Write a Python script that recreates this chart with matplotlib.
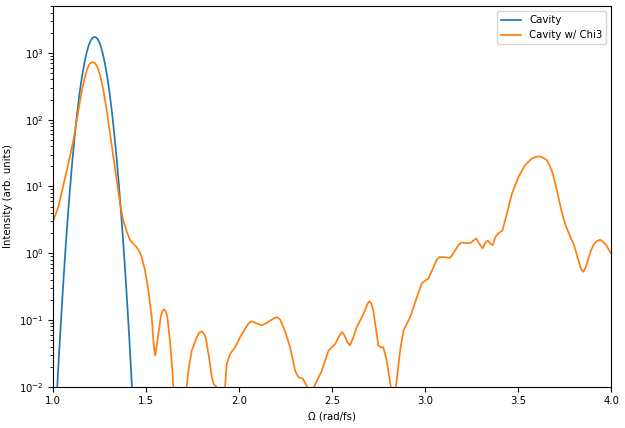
import numpy as np
import matplotlib
matplotlib.use("Agg")
from matplotlib import pyplot as plt

# Cavity spectrum (log10 of intensity)
cav_x = [1.00, 1.01, 1.02, 1.03, 1.04, 1.05, 1.06, 1.07, 1.08, 1.09, 1.10, 1.11,
         1.12, 1.13, 1.14, 1.15, 1.16, 1.17, 1.18, 1.19, 1.20, 1.21, 1.22, 1.23,
         1.24, 1.25, 1.26, 1.27, 1.28, 1.29, 1.30, 1.31, 1.32, 1.33, 1.34, 1.35,
         1.36, 1.37, 1.38, 1.39, 1.40, 1.41, 1.42, 1.43, 1.44, 1.46]
cav_log = [-3.17, -2.60, -2.06, -1.55, -1.07, -0.61, -0.17, 0.24, 0.62, 0.97, 1.31, 1.61,
           1.89, 2.14, 2.37, 2.57, 2.74, 2.89, 3.01, 3.11, 3.18, 3.22, 3.24, 3.23,
           3.20, 3.14, 3.05, 2.94, 2.80, 2.64, 2.45, 2.23, 1.99, 1.72, 1.43, 1.11,
           0.76, 0.39, -0.01, -0.43, -0.88, -1.35, -1.86, -2.38, -2.94, -4.1]

# Cavity with chi3 (log10 of intensity)
chi_x = [1.000, 1.027, 1.054, 1.081, 1.108, 1.126, 1.144, 1.157, 1.170, 1.180,
         1.190, 1.200, 1.210, 1.222, 1.233, 1.242, 1.251, 1.260, 1.269, 1.287,
         1.305, 1.323, 1.341, 1.359, 1.376, 1.395, 1.412, 1.430, 1.448, 1.462,
         1.475, 1.493, 1.511, 1.529, 1.538, 1.543, 1.548, 1.555, 1.565, 1.577,
         1.587, 1.597, 1.606, 1.613, 1.627, 1.640, 1.645, 1.680, 1.717, 1.726,
         1.744, 1.771, 1.784, 1.796, 1.808, 1.819, 1.837, 1.852, 1.864, 1.878,
         1.900, 1.923, 1.932, 1.950, 1.977, 2.004, 2.031, 2.050, 2.067, 2.090,
         2.120, 2.145, 2.165, 2.190, 2.204, 2.218, 2.237, 2.255, 2.273, 2.300,
         2.318, 2.341, 2.362, 2.380, 2.402, 2.443, 2.479, 2.515, 2.535, 2.552,
         2.565, 2.580, 2.595, 2.610, 2.631, 2.667, 2.690, 2.699, 2.708, 2.720,
         2.735, 2.747, 2.760, 2.774, 2.792, 2.814, 2.828, 2.842, 2.864, 2.882,
         2.900, 2.918, 2.954, 2.981, 3.000, 3.016, 3.043, 3.061, 3.075, 3.100,
         3.133, 3.160, 3.180, 3.196, 3.220, 3.240, 3.273, 3.290, 3.308, 3.322,
         3.336, 3.350, 3.362, 3.376, 3.389, 3.414, 3.438, 3.465, 3.500, 3.536,
         3.572, 3.592, 3.613, 3.633, 3.653, 3.670, 3.685, 3.700, 3.715, 3.733,
         3.751, 3.775, 3.796, 3.810, 3.823, 3.837, 3.849, 3.862, 3.876, 3.890,
         3.903, 3.920, 3.939, 3.955, 3.972, 3.986, 4.000]
chi_log = [0.49, 0.69, 1.02, 1.34, 1.69, 1.99, 2.29, 2.48, 2.64, 2.74,
           2.81, 2.85, 2.86, 2.85, 2.81, 2.75, 2.67, 2.56, 2.44, 2.14,
           1.79, 1.44, 1.09, 0.74, 0.49, 0.32, 0.20, 0.14, 0.09, 0.03,
           -0.06, -0.26, -0.56, -0.96, -1.31, -1.45, -1.53, -1.40, -1.21, -0.96,
           -0.86, -0.84, -0.88, -0.96, -1.31, -1.76, -2.0, -2.8, -2.0, -1.76,
           -1.46, -1.26, -1.19, -1.17, -1.20, -1.26, -1.56, -1.86, -1.97, -2.0,
           -2.3, -2.0, -1.66, -1.51, -1.41, -1.26, -1.13, -1.05, -1.02, -1.05,
           -1.08, -1.05, -1.01, -0.97, -0.96, -0.99, -1.11, -1.25, -1.41, -1.76,
           -1.86, -1.88, -1.99, -2.2, -2.0, -1.76, -1.46, -1.36, -1.25, -1.18,
           -1.23, -1.33, -1.38, -1.28, -1.11, -0.91, -0.75, -0.72, -0.75, -0.86,
           -1.15, -1.38, -1.41, -1.41, -1.61, -2.0, -2.3, -2.0, -1.46, -1.16,
           -1.06, -0.96, -0.66, -0.45, -0.41, -0.38, -0.21, -0.10, -0.06, -0.06,
           -0.07, 0.04, 0.13, 0.16, 0.15, 0.15, 0.22, 0.14, 0.07, 0.16,
           0.19, 0.14, 0.12, 0.24, 0.29, 0.34, 0.59, 0.89, 1.14, 1.32,
           1.42, 1.44, 1.45, 1.43, 1.39, 1.30, 1.19, 1.02, 0.84, 0.62,
           0.44, 0.27, 0.14, 0.02, -0.11, -0.24, -0.28, -0.21, -0.08, 0.04,
           0.12, 0.18, 0.20, 0.17, 0.12, 0.05, -0.01]

plt.rcParams['font.size'] = 7.3

fig = plt.figure(figsize=(6.25, 4.28), dpi=100)
ax = fig.add_axes([0.0853, 0.0965, 0.893, 0.889])

ax.semilogy(cav_x, 10 ** np.array(cav_log), color='#1f77b4', lw=1.25, label='Cavity')
ax.semilogy(chi_x, 10 ** np.array(chi_log), color='#ff7f0e', lw=1.25, label='Cavity w/ Chi3')

ax.set_xlim(1.0, 4.0)
ax.set_ylim(1e-2, 5e3)
ax.set_xlabel('Ω (rad/fs)')
ax.set_ylabel('Intensity (arb. units)')
ax.legend(loc='upper right')

fig.savefig('out.png', dpi=100)
